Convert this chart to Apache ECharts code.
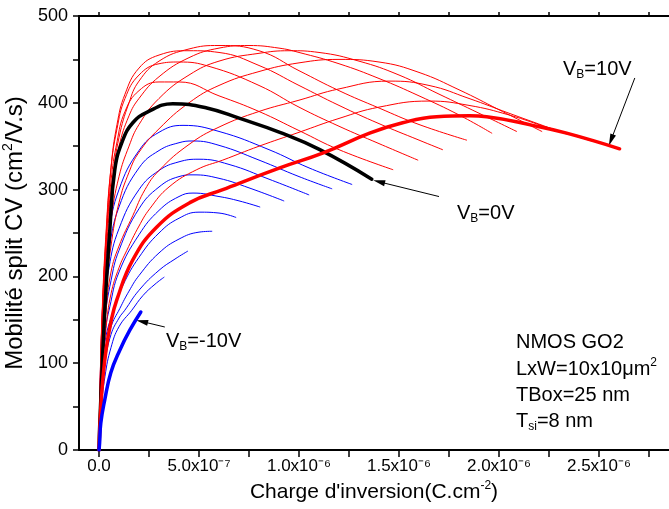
<!DOCTYPE html>
<html><head><meta charset="utf-8">
<script src="https://cdn.jsdelivr.net/npm/echarts@6/dist/echarts.min.js"></script>
<style>html,body{margin:0;padding:0;background:#fff}#c{width:669px;height:509px}</style>
</head><body><div id="c"></div>
<script>
// x : inversion charge in units of 1e-6 C.cm^-2 ; y : split CV mobility (cm^2/V.s)
const xTickValues = [0, 0.25, 0.5, 0.75, 1.0, 1.25, 1.5, 1.75, 2.0, 2.25, 2.5, 2.75];
const xLabelValues = [0, 0.5, 1.0, 1.5, 2.0, 2.5];
const xLabels = ['0.0', '5.0x10⁻⁷', '1.0x10⁻⁶', '1.5x10⁻⁶', '2.0x10⁻⁶', '2.5x10⁻⁶'];
const yTickValues = [0, 50, 100, 150, 200, 250, 300, 350, 400, 450, 500];
const yLabelValues = [0, 100, 200, 300, 400, 500];

// VB = -1 ... -10 V (blue)
const vbM1 = [[0,0],[0.003,36],[0.01,115],[0.025,190],[0.05,250],[0.1,300],[0.2,345],[0.3,366],[0.42,374],[0.6,367],[0.85,346],[1.05,325],[1.264,306]];
const vbM2 = [[0,0],[0.003,33],[0.01,105],[0.025,175],[0.05,230],[0.1,280],[0.2,325],[0.3,345],[0.4,354],[0.47,356],[0.6,351],[0.8,334],[1.0,315],[1.164,301]];
const vbM3 = [[0,0],[0.003,30],[0.01,95],[0.025,160],[0.05,210],[0.1,255],[0.2,300],[0.3,322],[0.4,332],[0.5,335],[0.65,329],[0.85,312],[1.049,294]];
const vbM4 = [[0,0],[0.003,28],[0.01,85],[0.029,150],[0.06,195],[0.1,230],[0.2,278],[0.3,303],[0.4,315],[0.47,317],[0.6,313],[0.75,302],[0.924,287]];
const vbM5 = [[0,0],[0.003,25],[0.01,75],[0.03,135],[0.054,165],[0.1,205],[0.2,248],[0.3,276],[0.4,292],[0.47,296],[0.6,292],[0.7,287],[0.804,280]];
const vbM6 = [[0,0],[0.003,22],[0.01,68],[0.03,125],[0.079,165],[0.12,190],[0.2,222],[0.3,250],[0.4,267],[0.5,274],[0.6,273],[0.684,268]];
const vbM7 = [[0,0],[0.003,20],[0.01,62],[0.03,112],[0.06,142],[0.104,163],[0.15,183],[0.2,201],[0.3,227],[0.4,243],[0.5,251],[0.564,252]];
const vbM8 = [[0,0],[0.003,18],[0.01,55],[0.03,100],[0.06,133],[0.1,152],[0.129,161],[0.2,184],[0.3,207],[0.38,220],[0.443,229]];
const vbM9 = [[0,0],[0.003,15],[0.01,45],[0.03,85],[0.06,118],[0.1,142],[0.164,161],[0.22,178],[0.28,191],[0.325,199]];
const vbM10 = [[0,0],[0.003,8],[0.009,31],[0.029,58],[0.059,89],[0.104,115],[0.154,138],[0.209,159]];
// VB = 0 V (black)
const vb0 = [[0,0],[0.003,25],[0.009,58],[0.029,161],[0.054,253],[0.079,323],[0.119,357],[0.169,377],[0.239,389],[0.369,399],[0.539,394],[0.704,382],[0.904,366],[1.104,346],[1.364,312]];
// VB = 1 ... 10 V (red)
const vbP1 = [[0,0],[0.004,60],[0.015,150],[0.035,240],[0.06,310],[0.09,355],[0.13,390],[0.2,414],[0.3,424],[0.4,424],[0.6,408],[0.8,390],[1.0,368],[1.2,346],[1.469,323]];
const vbP2 = [[0,0],[0.004,60],[0.015,155],[0.035,250],[0.06,325],[0.09,370],[0.13,405],[0.2,432],[0.3,445],[0.4,447],[0.55,442],[0.8,420],[1.0,395],[1.2,373],[1.4,353],[1.594,334]];
const vbP3 = [[0,0],[0.004,55],[0.015,150],[0.035,245],[0.06,325],[0.09,375],[0.13,410],[0.2,440],[0.3,455],[0.45,460],[0.6,458],[0.8,443],[1.0,420],[1.2,397],[1.4,376],[1.6,357],[1.718,346]];
const vbP4 = [[0,0],[0.005,55],[0.02,150],[0.04,240],[0.07,315],[0.1,360],[0.15,400],[0.2,425],[0.3,448],[0.45,462],[0.6,466],[0.8,460],[1.0,437],[1.2,414],[1.4,394],[1.6,375],[1.838,357]];
const vbP5 = [[0,0],[0.004,50],[0.015,140],[0.035,235],[0.06,300],[0.1,350],[0.15,385],[0.2,405],[0.3,430],[0.45,452],[0.6,463],[0.75,466],[0.9,463],[1.0,458],[1.2,445],[1.4,428],[1.6,408],[1.8,386],[1.964,365]];
const vbP6 = [[0,0],[0.004,45],[0.015,125],[0.035,205],[0.06,265],[0.1,315],[0.15,350],[0.2,375],[0.3,405],[0.45,432],[0.6,448],[0.8,457],[0.95,460],[1.1,458],[1.3,448],[1.5,432],[1.7,410],[1.9,388],[2.088,367]];
const vbP7 = [[0,0],[0.004,40],[0.015,110],[0.035,180],[0.06,235],[0.1,285],[0.15,320],[0.2,343],[0.3,370],[0.45,400],[0.6,420],[0.8,436],[1.0,446],[1.2,450],[1.4,447],[1.6,435],[1.8,415],[2.0,392],[2.214,367]];
const vbP8 = [[0,0],[0.004,35],[0.015,95],[0.035,160],[0.06,205],[0.1,235],[0.169,270],[0.23,300],[0.3,322],[0.45,352],[0.6,372],[0.8,390],[1.0,403],[1.2,416],[1.45,425],[1.65,420],[1.85,405],[2.05,388],[2.338,364]];
const vbP9 = [[0,0],[0.004,30],[0.015,85],[0.035,140],[0.06,180],[0.1,210],[0.139,230],[0.2,258],[0.254,278],[0.35,303],[0.489,323],[0.619,334],[0.8,350],[1.0,366],[1.2,382],[1.4,395],[1.65,402],[1.85,397],[2.05,386],[2.25,371],[2.464,356]];
const vbP10 = [[0,0],[0.004,25],[0.015,70],[0.035,115],[0.06,148],[0.089,173],[0.169,219],[0.289,257],[0.454,285],[0.619,300],[0.904,325],[1.118,342],[1.353,365],[1.518,377],[1.688,384],[1.853,385],[1.938,384],[2.168,374],[2.338,365],[2.603,347]];

// annotation arrows (data coords: tail -> head)
const arrowP10 = [[2.679, 428.6], [2.56, 357]];
const arrow0 = [[1.70, 292], [1.40, 309]];
const arrowM10 = [[0.329, 141.7], [0.215, 148]];

const FONT = '"Liberation Sans", Arial, sans-serif';
const blueThin = [vbM1, vbM2, vbM3, vbM4, vbM5, vbM6, vbM7, vbM8, vbM9];
const redThin = [vbP1, vbP2, vbP3, vbP4, vbP5, vbP6, vbP7, vbP8, vbP9];

function line(name, data, color, width, z) {
  return { name, type: 'line', data, symbol: 'none', showSymbol: false,
    smooth: 0.45, silent: true, z,
    lineStyle: { color, width, cap: 'round', join: 'round' } };
}
const ARROW = 'path://M5,0L10,22L0,22Z';
function arrowML(seg) {
  return { silent: true, animation: false, symbol: ['none', ARROW], symbolSize: [0, 10],
    lineStyle: { color: '#000', width: 1, type: 'solid' }, label: { show: false },
    emphasis: { disabled: true },
    data: [[{ coord: seg[0], symbol: 'none' }, { coord: seg[1], symbol: ARROW, symbolSize: [6, 12] }]] };
}

const series = [];
blueThin.forEach((d, i) => series.push(line('VB=-' + (i + 1) + 'V', d, '#0000FF', 1, 2)));
redThin.forEach((d, i) => series.push(line('VB=' + (i + 1) + 'V', d, '#FF0000', 1, 3)));
const s0 = line('VB=0V', vb0, '#000000', 3.5, 5); s0.markLine = arrowML(arrow0); series.push(s0);
const s10 = line('VB=10V', vbP10, '#FF0000', 3.5, 6); s10.markLine = arrowML(arrowP10); series.push(s10);
const sM10 = line('VB=-10V', vbM10, '#0000FF', 3.5, 6); sM10.markLine = arrowML(arrowM10); series.push(sM10);

const chart = echarts.init(document.getElementById('c'), null, { renderer: 'canvas' });
const annRich = { n: { fontSize: 20, lineHeight: 24, fontFamily: FONT, fill: '#000' },
                  sub: { fontSize: 12, lineHeight: 12, verticalAlign: 'bottom', fontFamily: FONT, fill: '#000' },
                  sup: { fontSize: 12, lineHeight: 11, verticalAlign: 'top', fontFamily: FONT, fill: '#000' } };
function ann(x, y, text) {
  return { type: 'text', x, y, silent: true, z: 100,
    style: { text, rich: annRich, font: '20px ' + FONT, fill: '#000', verticalAlign: 'middle', align: 'left' } };
}

chart.setOption({
  animation: false,
  backgroundColor: '#fff',
  grid: { left: 79, right: 0, top: 16, bottom: 59, containLabel: false, outerBoundsMode: 'none' },
  xAxis: [{
    type: 'value', min: -0.1, max: 2.85, position: 'bottom',
    name: "{n|Charge d'inversion(C.cm}{s|-2}{n|)}", nameLocation: 'middle', nameGap: 26,
    nameTextStyle: { fontSize: 21, fontFamily: FONT, color: '#000',
      rich: { n: { fontSize: 21, lineHeight: 25, fontFamily: FONT, color: '#000' },
              s: { fontSize: 12, lineHeight: 11, verticalAlign: 'top', fontFamily: FONT, color: '#000' } } },
    axisLine: { show: true, onZero: false, lineStyle: { color: '#000', width: 2 } },
    axisTick: { show: true, inside: false, length: 7, customValues: xTickValues, lineStyle: { color: '#000', width: 1.5 } },
    splitLine: { show: false },
    axisLabel: { show: true, margin: 8, customValues: xLabelValues, fontSize: 17, fontFamily: FONT, color: '#000',
      formatter: function (v) {
        const i = xLabelValues.findIndex(t => Math.abs(t - v) < 1e-9);
        return i < 0 ? '' : xLabels[i];
      } }
  }, {
    type: 'value', min: -0.1, max: 2.85, position: 'top',
    axisLine: { show: true, onZero: false, lineStyle: { color: '#000', width: 2 } },
    axisTick: { show: true, inside: false, length: 4, customValues: xTickValues, lineStyle: { color: '#000', width: 1.5 } },
    axisLabel: { show: false }, splitLine: { show: false }
  }],
  yAxis: [{
    type: 'value', min: 0, max: 500,
    name: '{n|Mobilité split CV (cm}{s|2}{n|/V.s)}', nameLocation: 'middle', nameGap: 42, nameRotate: 90,
    nameTextStyle: { fontSize: 24, fontFamily: FONT, color: '#000',
      rich: { n: { fontSize: 24, lineHeight: 28, fontFamily: FONT, color: '#000' },
              s: { fontSize: 14, lineHeight: 13, verticalAlign: 'top', fontFamily: FONT, color: '#000' } } },
    axisLine: { show: true, onZero: false, lineStyle: { color: '#000', width: 2 } },
    axisTick: { show: true, inside: false, length: 6, customValues: yTickValues, lineStyle: { color: '#000', width: 1.5 } },
    splitLine: { show: false },
    axisLabel: { show: true, margin: 11, customValues: yLabelValues, fontSize: 18, fontFamily: FONT, color: '#000' }
  }],
  series: series,
  graphic: [
    ann(563, 69, '{n|V}{sub|B}{n|=10V}'),
    ann(457, 213, '{n|V}{sub|B}{n|=0V}'),
    ann(166, 341, '{n|V}{sub|B}{n|=-10V}'),
    ann(516, 342, '{n|NMOS GO2}'),
    ann(516, 369, '{n|LxW=10x10μm}{sup|2}'),
    ann(516, 395, '{n|TBox=25 nm}'),
    ann(516, 421, '{n|T}{sub|si}{n|=8 nm}')
  ]
});
</script>
</body></html>
